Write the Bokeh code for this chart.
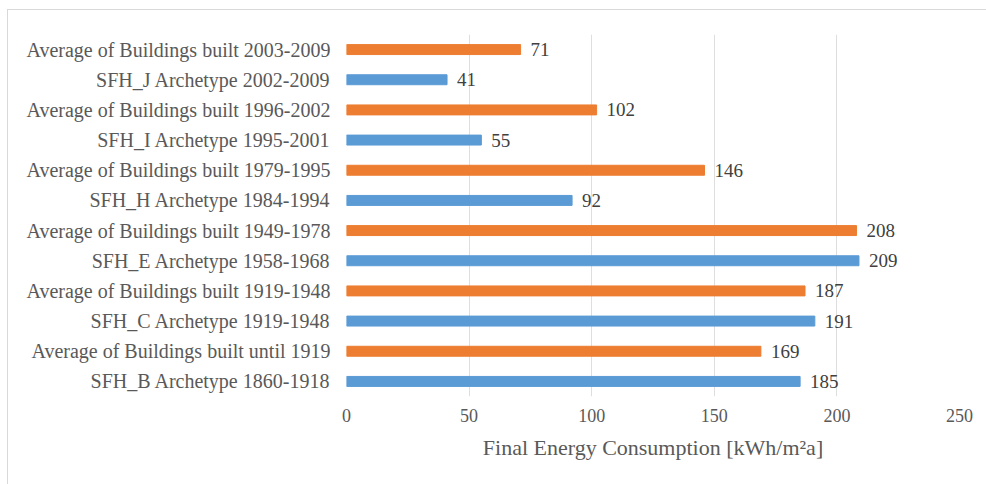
from bokeh.plotting import figure
from bokeh.models import ColumnDataSource, Range1d, FactorRange, FixedTicker
from bokeh.core.properties import value
from bokeh.embed import file_html
from bokeh.resources import INLINE

categories = [
    "SFH_B Archetype 1860-1918",
    "Average of Buildings built until 1919",
    "SFH_C Archetype 1919-1948",
    "Average of Buildings built 1919-1948",
    "SFH_E Archetype 1958-1968",
    "Average of Buildings built 1949-1978",
    "SFH_H Archetype 1984-1994",
    "Average of Buildings built 1979-1995",
    "SFH_I Archetype 1995-2001",
    "Average of Buildings built 1996-2002",
    "SFH_J Archetype 2002-2009",
    "Average of Buildings built 2003-2009",
]
values = [185, 169, 191, 187, 209, 208, 92, 146, 55, 102, 41, 71]
series = ["archetype", "average"] * 6
x_ticks = [0, 50, 100, 150, 200, 250]
x_label = "Final Energy Consumption [kWh/m\u00b2a]"

color_map = {"archetype": "#5B9BD5", "average": "#ED7D31"}
colors = [color_map[s] for s in series]

src = ColumnDataSource(dict(cat=categories, val=values, color=colors,
                            label=[str(v) for v in values]))

FONT = "Liberation Serif"

p = figure(width=990, height=480, output_backend="svg", toolbar_location=None,
           y_range=FactorRange(*categories), x_range=Range1d(0, 250),
           min_border_left=338, min_border_right=39, min_border_top=24,
           min_border_bottom=94)
p.styles = {"border-left": "1px solid #d9d9d9", "border-top": "1px solid #d9d9d9",
            "margin-left": "7px", "margin-top": "9px"}
p.outline_line_color = None
p.background_fill_color = "white"
p.border_fill_color = "white"

p.hbar(y="cat", right="val", left=0, height=0.33, color="color", source=src)
p.text(x="val", y="cat", text="label", source=src, x_offset=10,
       text_baseline="middle", text_align="left",
       text_font=value(FONT), text_font_size="19px", text_color="#404040")

p.xaxis.ticker = FixedTicker(ticks=x_ticks)
p.xaxis.axis_line_color = None
p.xaxis.major_tick_line_color = None
p.xaxis.minor_tick_line_color = None
p.xaxis.major_label_text_font = FONT
p.xaxis.major_label_text_font_size = "18px"
p.xaxis.major_label_text_color = "#595959"
p.xaxis.major_label_standoff = 6
p.xaxis.axis_label = x_label
p.xaxis.axis_label_text_font = FONT
p.xaxis.axis_label_text_font_style = "normal"
p.xaxis.axis_label_text_font_size = "22px"
p.xaxis.axis_label_text_color = "#595959"
p.xaxis.axis_label_standoff = 10

p.yaxis.axis_line_color = None
p.yaxis.major_tick_line_color = None
p.yaxis.minor_tick_line_color = None
p.yaxis.major_label_text_font = FONT
p.yaxis.major_label_text_font_size = "20px"
p.yaxis.major_label_text_color = "#595959"
p.yaxis.major_label_standoff = 10

p.xgrid.grid_line_color = "#dedede"
p.ygrid.grid_line_color = None

open("out.html", "w").write(file_html(p, INLINE))
